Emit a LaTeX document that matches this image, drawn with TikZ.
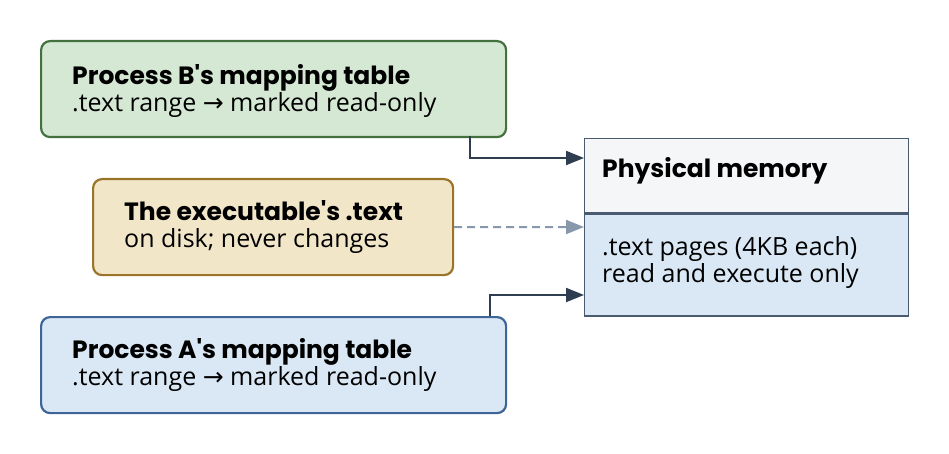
\documentclass[tikz,border=0pt]{standalone}
\usepackage{fontspec}
\setmainfont{Open Sans}
\newfontfamily\titlefont{Poppins}
\newfontfamily\symfont{DejaVu Sans}
\usetikzlibrary{arrows.meta,positioning}
\definecolor{greenfill}{HTML}{D5E8D4}
\definecolor{greenline}{HTML}{44723F}
\definecolor{tanfill}{HTML}{F2E6C9}
\definecolor{tanline}{HTML}{9A7428}
\definecolor{bluefill}{HTML}{DAE8F5}
\definecolor{blueline}{HTML}{3D6697}
\definecolor{memline}{HTML}{4A5A70}
\definecolor{headfill}{HTML}{F4F6F8}
\definecolor{arrdark}{HTML}{2F3D50}
\definecolor{arrgray}{HTML}{8898AC}
\newcommand{\ttl}[1]{{\titlefont\bfseries #1}}
\newcommand{\rarr}{{\symfont →}}

\begin{document}
\begin{tikzpicture}[x=1pt,y=-1pt,
    box/.style={rectangle, draw, line width=2.2pt, rounded corners=9pt,
                minimum height=96pt, inner sep=0pt},
    txt/.style={anchor=west, align=left, font=\fontsize{25}{27}\selectfont, inner sep=0pt},
    arr/.style={-{Triangle[length=18pt,width=14pt]}, line width=2pt, draw=arrdark},
  ]
  \useasboundingbox (0,0) rectangle (949,454);

  % Process B
  \node[box, draw=greenline, fill=greenfill, minimum width=465pt, anchor=north west] (procb) at (40,40) {};
  \node[txt] (procbt) at (72,91) {\ttl{Process B's mapping table}\\.text range \rarr\ marked read-only};

  % Executable
  \node[box, draw=tanline, fill=tanfill, minimum width=360pt, anchor=north west] (exe) at (92,178) {};
  \node[txt] (exet) at (124,227) {\ttl{The executable's .text}\\on disk; never changes};

  % Process A
  \node[box, draw=blueline, fill=bluefill, minimum width=465pt, anchor=north west] (proca) at (40,316) {};
  \node[txt] (procat) at (72,365) {\ttl{Process A's mapping table}\\.text range \rarr\ marked read-only};

  % Physical memory
  \node[rectangle, draw=memline, line width=1.3pt, fill=headfill, minimum width=324pt, minimum height=74pt, anchor=north west] (memh) at (584,138) {};
  \node[rectangle, draw=memline, line width=1.3pt, fill=bluefill, minimum width=324pt, minimum height=102pt, anchor=north] (memb) at (memh.south) {};
  \node[txt] (memht) at (602,171) {\ttl{Physical memory}};
  \node[txt] (membt) at (602,263) {.text pages (4KB each)\\read and execute only};

  % Arrows
  \coordinate (bin) at (584,158);
  \coordinate (ain) at (584,295);
  \coordinate (ein) at (584,227);
  \draw[arr] (470,136) |- (bin);
  \draw[arr] (490,316) |- (ain);
  \draw[-{Triangle[length=18pt,width=14pt]}, line width=2pt, draw=arrgray, dash pattern=on 8pt off 5pt] (exe.east) -- (ein);
\end{tikzpicture}
\end{document}
